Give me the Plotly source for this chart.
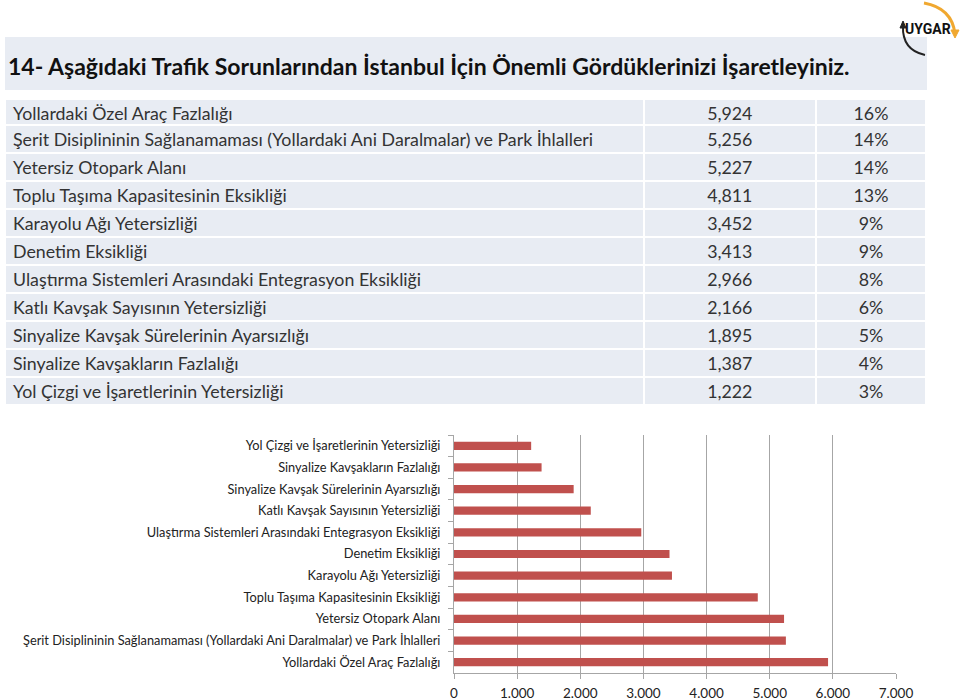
import plotly.graph_objects as go

W, H = 960, 700

title = "14- Aşağıdaki Trafik Sorunlarından İstanbul İçin Önemli Gördüklerinizi İşaretleyiniz."

categories = [
    "Yollardaki Özel Araç Fazlalığı",
    "Şerit Disiplininin Sağlanamaması (Yollardaki Ani Daralmalar) ve Park İhlalleri",
    "Yetersiz Otopark Alanı",
    "Toplu Taşıma Kapasitesinin Eksikliği",
    "Karayolu Ağı Yetersizliği",
    "Denetim Eksikliği",
    "Ulaştırma Sistemleri Arasındaki Entegrasyon Eksikliği",
    "Katlı Kavşak Sayısının Yetersizliği",
    "Sinyalize Kavşak Sürelerinin Ayarsızlığı",
    "Sinyalize Kavşakların Fazlalığı",
    "Yol Çizgi ve İşaretlerinin Yetersizliği",
]
counts = [5924, 5256, 5227, 4811, 3452, 3413, 2966, 2166, 1895, 1387, 1222]
percents = [16, 14, 14, 13, 9, 9, 8, 6, 5, 4, 3]
x_ticks = [0, 1000, 2000, 3000, 4000, 5000, 6000, 7000]

BAND = "#E8ECF3"
TXT = "#333333"
FONT = "Lato"


def px(x):
    return x / W


def py(y):
    return 1 - y / H


count_txt = [f"{c:,}" for c in counts]
pct_txt = [f"{p}%" for p in percents]

fig = go.Figure()

# Table
fig.add_trace(go.Table(
    domain=dict(x=[px(5), px(927)], y=[py(408), py(99)]),
    columnwidth=[638, 172, 110],
    header=dict(
        values=[categories[0], count_txt[0], pct_txt[0]],
        fill_color=BAND, line=dict(color="white", width=2),
        align=["left", "center", "center"],
        font=dict(family=FONT, size=17.8, color=TXT), height=26,
    ),
    cells=dict(
        values=[categories[1:], count_txt[1:], pct_txt[1:]],
        fill_color=BAND, line=dict(color="white", width=2),
        align=["left", "center", "center"],
        font=dict(family=FONT, size=17.8, color=TXT), height=28,
    ),
))

# Bar chart
fig.add_trace(go.Bar(
    x=counts, y=categories, orientation="h",
    marker=dict(color="#C0504D", line=dict(width=0)),
    width=0.38, showlegend=False, hoverinfo="x+y",
))

fig.update_layout(
    width=W, height=H, margin=dict(l=0, r=0, t=0, b=0),
    paper_bgcolor="white", plot_bgcolor="white",
    separators=",.",
    font=dict(family=FONT, color="#222"),
    xaxis=dict(
        domain=[px(454), px(896)], range=[0, 7000],
        tickvals=x_ticks, tickformat=",d",
        showgrid=True, gridcolor="#A6A6A6", gridwidth=1,
        showline=True, linecolor="#A6A6A6", linewidth=1,
        ticks="outside", ticklen=5, tickcolor="#A6A6A6",
        tickfont=dict(size=13.5, color="#222"), zeroline=False,
        ticklabelstandoff=3, fixedrange=True, automargin=False,
    ),
    yaxis=dict(
        domain=[py(673), py(435)], type="category",
        categoryorder="array", categoryarray=categories,
        showline=True, linecolor="#A6A6A6", linewidth=1,
        ticks="outside", ticklen=5, tickcolor="#A6A6A6", tickson="boundaries",
        tickfont=dict(size=12.8, color="#222"), showgrid=False,
        ticklabelstandoff=10, fixedrange=True, automargin=False,
    ),
    shapes=[
        dict(type="rect", xref="paper", yref="paper",
             x0=px(5), x1=px(927), y0=py(90), y1=py(37),
             fillcolor=BAND, line=dict(width=0), layer="below"),
        # logo arcs
        dict(type="path", xref="paper", yref="paper",
             path=f"M {px(924)} {py(3)} Q {px(952)} {py(8)} {px(955)} {py(34)}",
             line=dict(color="#F0A830", width=3)),
        dict(type="path", xref="paper", yref="paper",
             path=f"M {px(951)} {py(30)} L {px(955)} {py(38)} L {px(959)} {py(30)} Z",
             fillcolor="#F0A830", line=dict(color="#F0A830", width=1)),
        dict(type="path", xref="paper", yref="paper",
             path=f"M {px(903)} {py(26)} Q {px(902)} {py(50)} {px(925)} {py(55)}",
             line=dict(color="#222", width=2)),
        dict(type="path", xref="paper", yref="paper",
             path=f"M {px(900)} {py(28)} L {px(903)} {py(21)} L {px(906)} {py(28)} Z",
             fillcolor="#222", line=dict(color="#222", width=1)),
    ],
    annotations=[
        dict(text="<b>" + title + "</b>", xref="paper", yref="paper", x=px(6), y=py(66),
             xanchor="left", yanchor="middle", showarrow=False,
             font=dict(family=FONT, size=23, color="#111")),
        dict(text="<b>UYGAR</b>", xref="paper", yref="paper", x=px(928), y=py(29),
             xanchor="center", yanchor="middle", showarrow=False,
             font=dict(family="Roboto", size=14, color="#111")),
    ],
)

fig.write_html(
    "out.html",
    config={"displayModeBar": False},
    post_script="document.body.style.margin='0';document.body.style.padding='0';"
                "document.documentElement.style.overflow='hidden';",
)
